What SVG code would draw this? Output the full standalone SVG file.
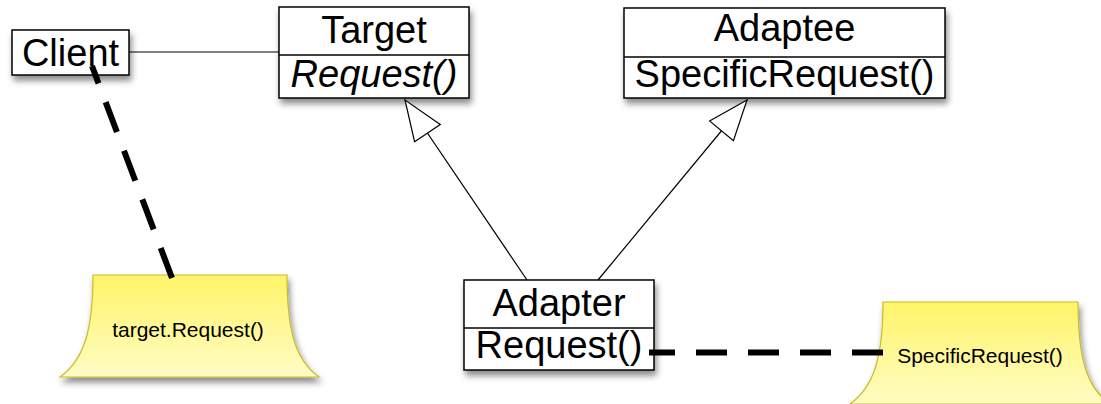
<svg xmlns="http://www.w3.org/2000/svg" width="1101" height="404" viewBox="0 0 1101 404">
<style>
.box{fill:#fff;stroke:#000;stroke-width:1.5;}
.div{stroke:#000;stroke-width:1.5;}
.big{font-family:"Liberation Sans",Arial,Helvetica,sans-serif;font-size:38px;fill:#000;text-anchor:middle;}
.it{font-style:italic;}
.small{font-family:"Liberation Sans",Arial,Helvetica,sans-serif;font-size:21px;fill:#000;text-anchor:middle;}
.note{fill:url(#noteGrad);stroke:#c8bd2a;stroke-width:1.2;}
.assoc{stroke:#000;stroke-width:1.2;fill:none;}
.dash{stroke:#000;stroke-width:6;fill:none;stroke-dasharray:31 21;}
</style>
<defs>
<linearGradient id="noteGrad" x1="0" y1="0" x2="0" y2="1">
<stop offset="0" stop-color="#fff468"/>
<stop offset="1" stop-color="#fffcc4"/>
</linearGradient>
<filter id="shadow" x="-20%" y="-20%" width="140%" height="150%">
<feDropShadow dx="2" dy="5" stdDeviation="3" flood-color="#000" flood-opacity="0.45"/>
</filter>
<marker id="hollow" markerUnits="userSpaceOnUse" viewBox="-1 -1 42 34" markerWidth="42" markerHeight="34" refX="40" refY="16" orient="auto" overflow="visible">
<path d="M0,0.5 L40,16 L0,31.5 Z" fill="#fff" stroke="#000" stroke-width="1.2"/>
</marker>
</defs>
<rect width="1101" height="404" fill="#fff"/>

<g id="note-client">
<path class="note" filter="url(#shadow)" d="M93,275 L287,275 C287,330 295,360 319,377 L60,377 C84,360 93,330 93,275 Z"/>
<text class="small" x="188" y="337">target.Request()</text>
</g>

<g id="note-adapter">
<path class="note" filter="url(#shadow)" d="M883,302 L1078,302 C1078,357 1086,387 1110,404 L850,404 C874,387 883,357 883,302 Z"/>
<text class="small" x="980" y="363">SpecificRequest()</text>
</g>

<g id="client">
<rect class="box" filter="url(#shadow)" x="12" y="30" width="117" height="45"/>
<text class="big" x="70.5" y="66">Client</text>
</g>

<g id="target">
<rect class="box" filter="url(#shadow)" x="279" y="7" width="190" height="91"/>
<line class="div" x1="279" y1="55" x2="469" y2="55"/>
<text class="big" x="374" y="43">Target</text>
<text class="big it" x="374" y="87">Request()</text>
</g>

<g id="adaptee">
<rect class="box" filter="url(#shadow)" x="624" y="8" width="321" height="90"/>
<line class="div" x1="624" y1="57" x2="945" y2="57"/>
<text class="big" x="784.5" y="41">Adaptee</text>
<text class="big" x="784.5" y="87">SpecificRequest()</text>
</g>

<g id="adapter">
<rect class="box" filter="url(#shadow)" x="464" y="280" width="190" height="90"/>
<line class="div" x1="464" y1="328" x2="654" y2="328"/>
<text class="big" x="559" y="316">Adapter</text>
<text class="big" x="559" y="358">Request()</text>
</g>

<g id="connectors">
<line class="assoc" x1="129" y1="52" x2="279" y2="52"/>
<line class="assoc" x1="527" y1="280" x2="405" y2="100" marker-end="url(#hollow)"/>
<line class="assoc" x1="598" y1="280" x2="747" y2="100" marker-end="url(#hollow)"/>
<line class="dash" style="stroke-dasharray:32 20" x1="172" y1="278" x2="92" y2="66"/>
<line class="dash" x1="883" y1="352.5" x2="649" y2="352.5"/>
</g>
</svg>
